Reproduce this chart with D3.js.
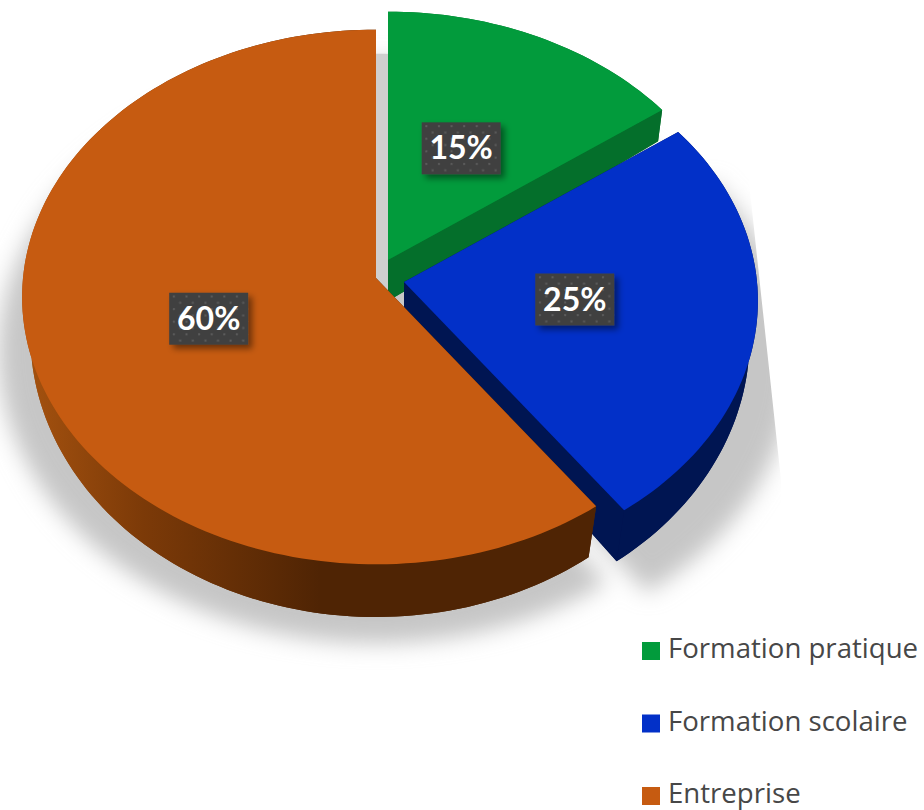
<!DOCTYPE html>
<html>
<head>
<meta charset="utf-8">
<script src="https://cdn.jsdelivr.net/npm/d3@7"></script>
<style>
  html, body { margin: 0; padding: 0; background: #fff; overflow: hidden; }
  svg { display: block; }
</style>
</head>
<body>
<svg id="chart"></svg>
<script>
const categories = ['Formation pratique', 'Formation scolaire', 'Entreprise']
const values = [15, 25, 60]
const labels = ['15%', '25%', '60%']

const topColors = ['#029b3c', '#0230c8', '#c65b11']
const sideColors = ['#046f2b', '#001552', 'url(#orangeSide)']

let width = 924
let height = 810

const svg = d3.select('#chart').attr('width', width).attr('height', height)
const defs = svg.append('defs')

// pie tilted in perspective: back of the disc is smaller than the front
const topMap = { ax: 376, ay: 278, A: 353, B: 266, p: 0.071 }
const bottomMap = { ax: 376, ay: 319, A: 345, B: 281, p: 0.057 }
const shadowMap = { ax: 376, ay: 338, A: 377, B: 290, p: 0.05 }

// how far each slice is pulled out of the pie, in pixels
const sliceOffsets = [
  [12, -18],
  [28, 4],
  [0, 0],
]
const shadowOffsets = [
  [0, 0],
  [40, 10],
  [0, 0],
]
const labelNudges = [
  [-3, 1],
  [-1, -3],
  [-1, 0],
]

function project(map, angle, r, offset) {
  const u = Math.sin(angle) * r
  const v = Math.cos(angle) * r
  const w = 1 + map.p * v
  return [
    map.ax + offset[0] + (map.A * u) / w,
    map.ay + offset[1] - (map.B * v) / w,
  ]
}

function arcPoints(map, d, offset) {
  const steps = Math.ceil((d.endAngle - d.startAngle) * 40)
  return d3
    .range(steps + 1)
    .map((i) =>
      project(map, d.startAngle + ((d.endAngle - d.startAngle) * i) / steps, 1, offset)
    )
}

const line = d3.line()

function sector(map, d, offset) {
  return line([project(map, 0, 0, offset), ...arcPoints(map, d, offset)]) + 'Z'
}

const slices = d3
  .pie()
  .sort(null)
  .value((d) => d)(values)

// --------------------------------------------------------------
// Defs

const orangeSide = defs
  .append('linearGradient')
  .attr('id', 'orangeSide')
  .attr('gradientUnits', 'userSpaceOnUse')
  .attr('x1', 25)
  .attr('x2', 320)
  .attr('y1', 0)
  .attr('y2', 0)
orangeSide.append('stop').attr('offset', 0).attr('stop-color', '#a5520f')
orangeSide.append('stop').attr('offset', 0.4).attr('stop-color', '#7c3a08')
orangeSide.append('stop').attr('offset', 1).attr('stop-color', '#4f2404')

defs
  .append('filter')
  .attr('id', 'shadowBlur')
  .attr('x', '-20%')
  .attr('y', '-20%')
  .attr('width', '140%')
  .attr('height', '140%')
  .append('feGaussianBlur')
  .attr('stdDeviation', 11)

const boxShadow = defs
  .append('filter')
  .attr('id', 'boxShadow')
  .attr('x', '-20%')
  .attr('y', '-20%')
  .attr('width', '150%')
  .attr('height', '150%')
boxShadow
  .append('feDropShadow')
  .attr('dx', 4)
  .attr('dy', 4)
  .attr('stdDeviation', 3)
  .attr('flood-color', '#000')
  .attr('flood-opacity', 0.45)

const dots = defs
  .append('pattern')
  .attr('id', 'dots')
  .attr('patternUnits', 'userSpaceOnUse')
  .attr('width', 12.6)
  .attr('height', 12.6)
dots.append('rect').attr('width', 12.6).attr('height', 12.6).attr('fill', '#404040')
dots.append('rect').attr('x', 2).attr('y', 2).attr('width', 2).attr('height', 2).attr('fill', '#5c5c5c')
dots.append('rect').attr('x', 8.3).attr('y', 8.3).attr('width', 2).attr('height', 2).attr('fill', '#5c5c5c')

// the shadow is cut by a straight edge on the right
defs
  .append('clipPath')
  .attr('id', 'shadowClip')
  .append('path')
  .attr('d', line([[0, 0], [730, 0], [752, 210], [781, 480], [781, 810], [0, 810]]) + 'Z')

// --------------------------------------------------------------
// Shadow

const shadow = svg.append('g').attr('clip-path', 'url(#shadowClip)')
shadow
  .append('g')
  .attr('filter', 'url(#shadowBlur)')
  .selectAll('path')
  .data(slices)
  .join('path')
  .attr('d', (d, i) => sector(shadowMap, d, shadowOffsets[i]))
  .attr('fill', '#c6c6c6')

// hard edged part that shows in the gap next to the green slice
shadow
  .append('path')
  .attr('d', sector(topMap, slices[0], [0, 24]))
  .attr('fill', '#cfcfcf')

// --------------------------------------------------------------
// Slices

const sliceGroups = svg
  .append('g')
  .selectAll('g')
  .data(slices)
  .join('g')

sliceGroups.each(function (d, i) {
  const g = d3.select(this)
  const offset = sliceOffsets[i]

  g.append('path').attr('d', sector(bottomMap, d, offset)).attr('fill', sideColors[i])

  // outer wall
  g.append('path')
    .attr(
      'd',
      line([...arcPoints(topMap, d, offset), ...arcPoints(bottomMap, d, offset).reverse()]) + 'Z'
    )
    .attr('fill', sideColors[i])

  // cut faces
  ;[d.startAngle, d.endAngle].forEach((angle) => {
    g.append('path')
      .attr(
        'd',
        line([
          project(topMap, 0, 0, offset),
          project(topMap, angle, 1, offset),
          project(bottomMap, angle, 1, offset),
          project(bottomMap, 0, 0, offset),
        ]) + 'Z'
      )
      .attr('fill', sideColors[i])
  })

  g.append('path').attr('d', sector(topMap, d, offset)).attr('fill', topColors[i])
})

// --------------------------------------------------------------
// Data labels

const boxW = 79
const boxH = 52

const labelGroups = svg
  .append('g')
  .selectAll('g')
  .data(slices)
  .join('g')
  .attr('transform', (d, i) => {
    const mid = (d.startAngle + d.endAngle) / 2
    const p = project(topMap, mid, 0.49, sliceOffsets[i])
    return 'translate(' + [p[0] + labelNudges[i][0], p[1] + labelNudges[i][1]] + ')'
  })

labelGroups
  .append('rect')
  .attr('x', -boxW / 2)
  .attr('y', -boxH / 2)
  .attr('width', boxW)
  .attr('height', boxH)
  .attr('fill', 'url(#dots)')
  .attr('filter', 'url(#boxShadow)')

labelGroups
  .append('text')
  .attr('text-anchor', 'middle')
  .attr('y', 11)
  .attr('font-family', 'Lato')
  .attr('font-weight', 700)
  .attr('font-size', 32)
  .attr('fill', '#fff')
  .text((d, i) => labels[i])

// --------------------------------------------------------------
// Legend

const legendY = d3
  .scalePoint()
  .domain(categories)
  .range([651, 796])

const legend = svg
  .append('g')
  .selectAll('g')
  .data(categories)
  .join('g')
  .attr('transform', (d) => 'translate(642,' + legendY(d) + ')')

legend
  .append('rect')
  .attr('y', -9)
  .attr('width', 18)
  .attr('height', 18)
  .attr('fill', (d, i) => topColors[i])

legend
  .append('text')
  .attr('x', 26)
  .attr('y', 7)
  .attr('font-family', 'Open Sans')
  .attr('font-size', 27.6)
  .attr('fill', '#474747')
  .text((d) => d)
</script>
</body>
</html>
